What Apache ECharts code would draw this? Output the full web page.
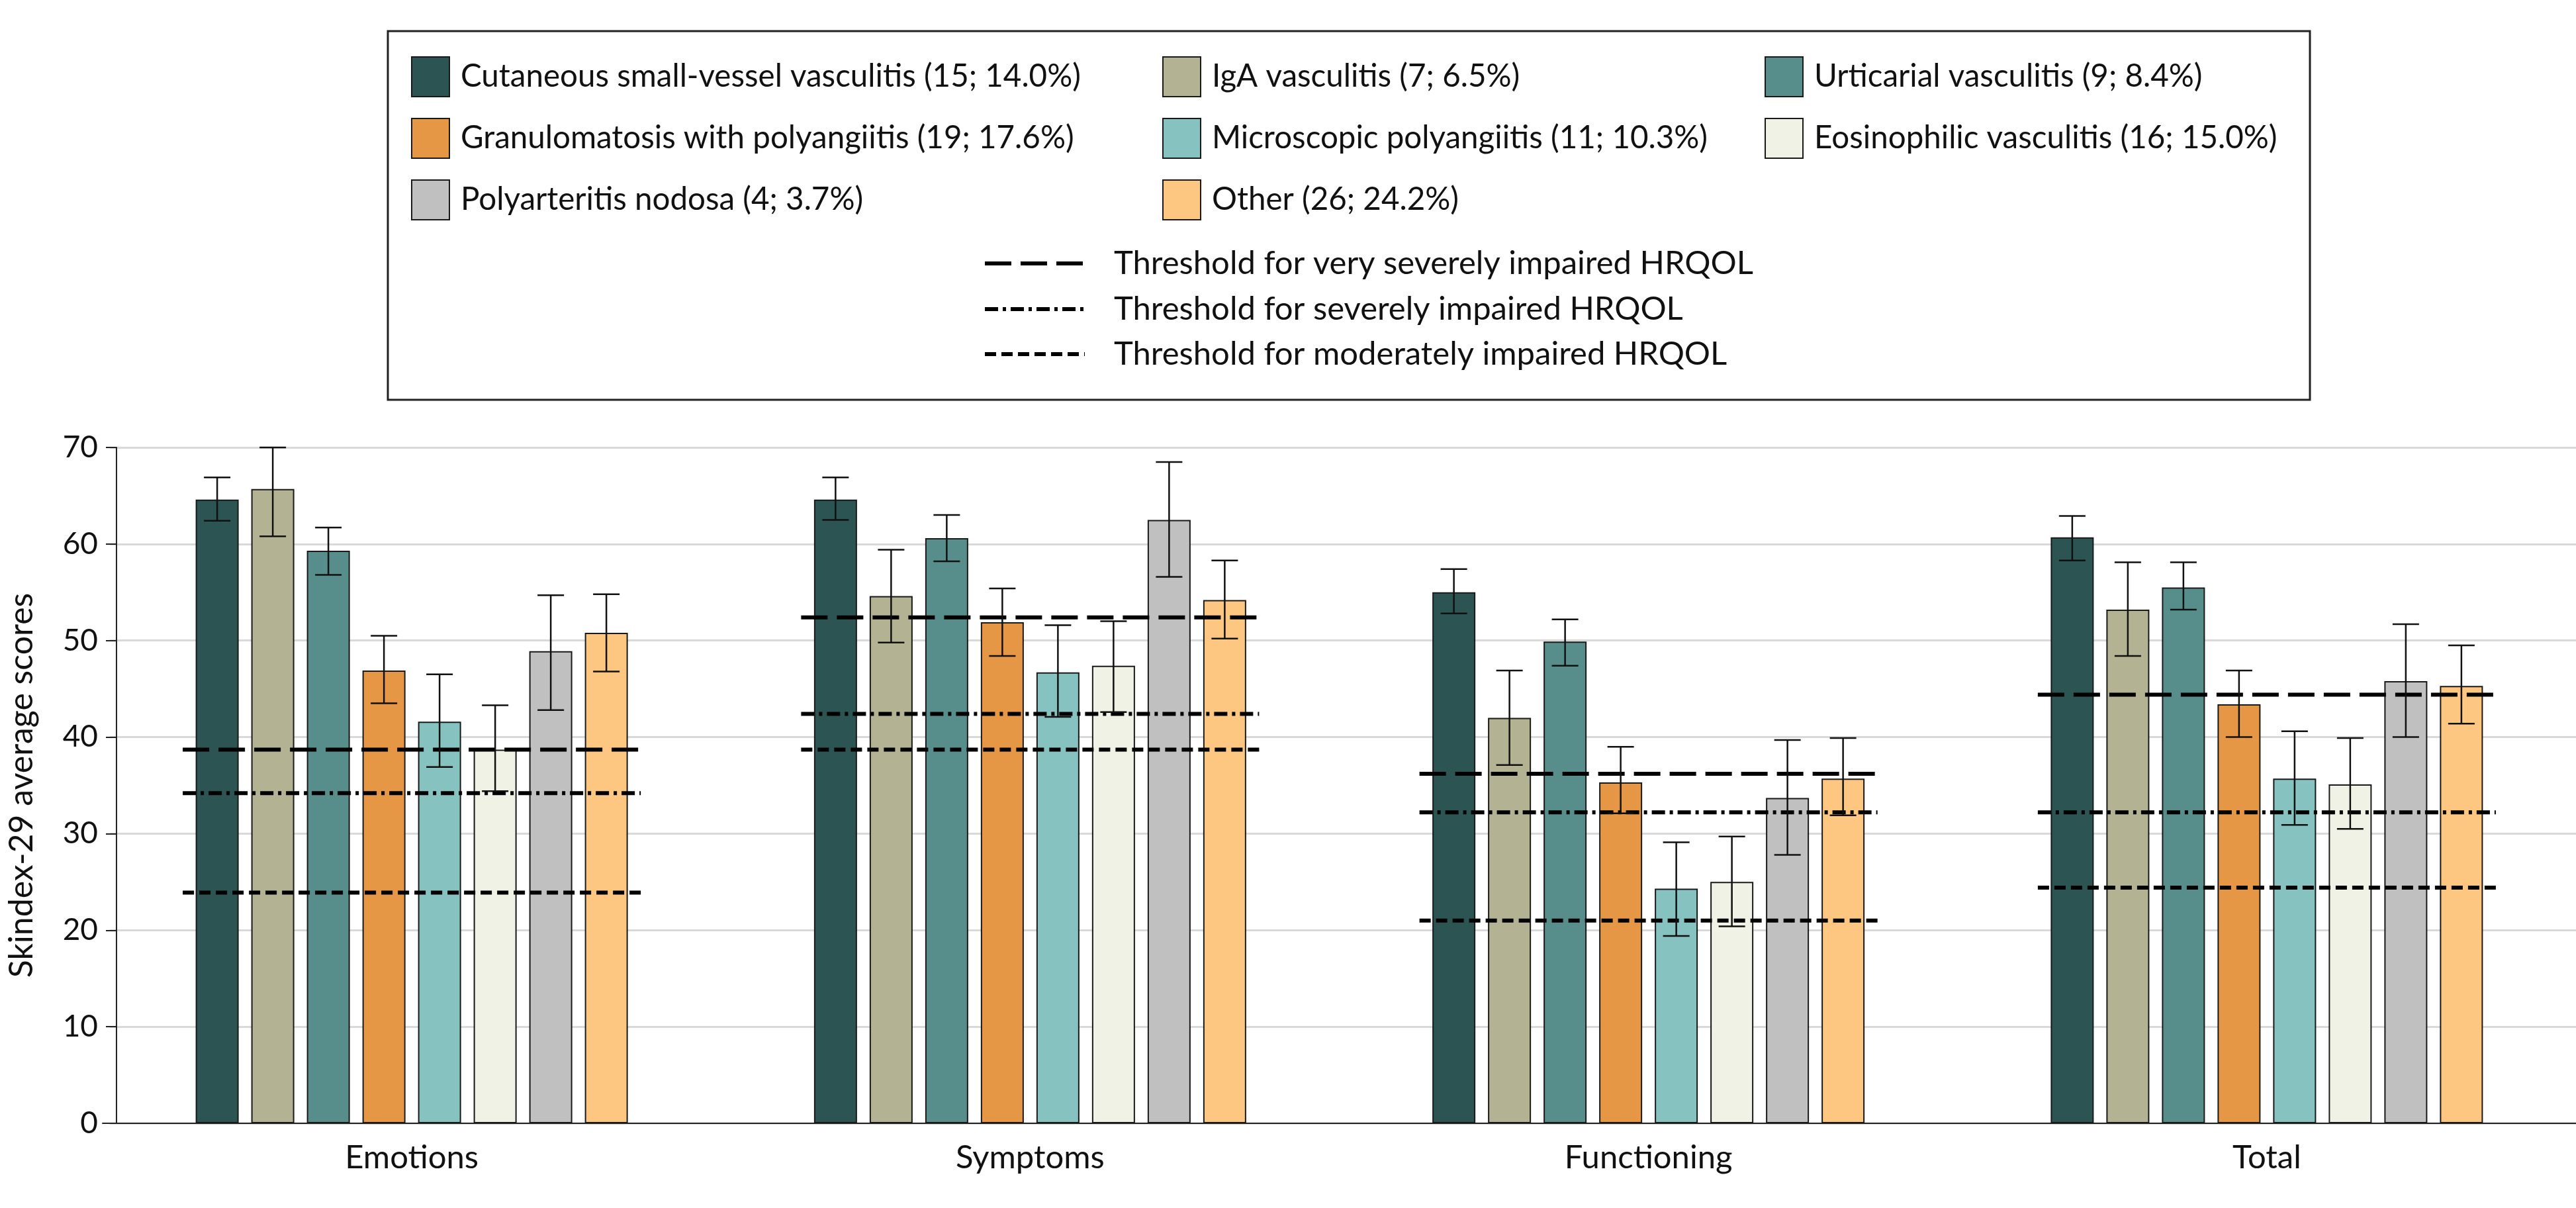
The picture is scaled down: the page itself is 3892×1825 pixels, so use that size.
<!DOCTYPE html>
<html><head><meta charset="utf-8">
<script src="https://cdn.jsdelivr.net/npm/echarts@6/dist/echarts.min.js"></script>
<style>html,body{margin:0;padding:0;background:#fff}#c{width:3892px;height:1825px}</style>
</head><body><div id="c"></div>
<script>
// ---------------- DATA ----------------
const categories = ['Emotions', 'Symptoms', 'Functioning', 'Total'];
const seriesNames = [
  'Cutaneous small-vessel vasculitis (15; 14.0%)',
  'IgA vasculitis (7; 6.5%)',
  'Urticarial vasculitis (9; 8.4%)',
  'Granulomatosis with polyangiitis (19; 17.6%)',
  'Microscopic polyangiitis (11; 10.3%)',
  'Eosinophilic vasculitis (16; 15.0%)',
  'Polyarteritis nodosa (4; 3.7%)',
  'Other (26; 24.2%)'
];
// mean scores per category
const meanCSVV  = [64.6, 64.6, 55.0, 60.7];
const meanIgA   = [65.7, 54.6, 42.0, 53.2];
const meanUrt   = [59.3, 60.6, 49.9, 55.5];
const meanGPA   = [46.9, 51.9, 35.3, 43.4];
const meanMPA   = [41.6, 46.7, 24.3, 35.7];
const meanEV    = [38.7, 47.4, 25.0, 35.1];
const meanPAN   = [48.9, 62.5, 33.7, 45.8];
const meanOther = [50.8, 54.2, 35.7, 45.3];
// error bar lower / upper bounds
const lowCSVV  = [62.4, 62.5, 52.8, 58.3], highCSVV  = [66.9, 66.9, 57.4, 62.9];
const lowIgA   = [60.8, 49.8, 37.1, 48.4], highIgA   = [70.0, 59.4, 46.9, 58.1];
const lowUrt   = [56.8, 58.2, 47.4, 53.2], highUrt   = [61.7, 63.0, 52.2, 58.1];
const lowGPA   = [43.5, 48.4, 32.1, 40.0], highGPA   = [50.5, 55.4, 39.0, 46.9];
const lowMPA   = [36.9, 42.1, 19.4, 30.9], highMPA   = [46.5, 51.6, 29.1, 40.6];
const lowEV    = [34.4, 42.6, 20.4, 30.5], highEV    = [43.3, 52.0, 29.7, 39.9];
const lowPAN   = [42.8, 56.6, 27.8, 40.0], highPAN   = [54.7, 68.5, 39.7, 51.7];
const lowOther = [46.8, 50.2, 31.9, 41.4], highOther = [54.8, 58.3, 39.9, 49.5];
// HRQOL thresholds per category
const thrVerySevere = [38.7, 52.4, 36.2, 44.4];
const thrSevere     = [34.2, 42.4, 32.2, 32.2];
const thrModerate   = [23.9, 38.7, 21.0, 24.4];
const thresholdNames = [
  'Threshold for very severely impaired HRQOL',
  'Threshold for severely impaired HRQOL',
  'Threshold for moderately impaired HRQOL'
];
const yTicks = [0, 10, 20, 30, 40, 50, 60, 70];

// ---------------- STYLE ----------------
const colors = ['#2C5453', '#B3B394', '#578E8C', '#E69746', '#85C2C0', '#F0F2E6', '#C0C0C0', '#FDC681'];
const FONT = 'Lato, "Liberation Sans", sans-serif';
const BAR_W = 65, BAR_STEP = 84, CAP = 20, THR_HALF = 346;
const dashes = [[40, 14], [20, 7, 5, 7], [17, 8]];

const means = [meanCSVV, meanIgA, meanUrt, meanGPA, meanMPA, meanEV, meanPAN, meanOther];
const lows  = [lowCSVV, lowIgA, lowUrt, lowGPA, lowMPA, lowEV, lowPAN, lowOther];
const highs = [highCSVV, highIgA, highUrt, highGPA, highMPA, highEV, highPAN, highOther];
const thresholds = [thrVerySevere, thrSevere, thrModerate];

const errRows = [];
means.forEach((m, si) => categories.forEach((c, ci) => errRows.push([ci, si, lows[si][ci], highs[si][ci]])));
const thrRows = [];
thresholds.forEach((t, ti) => categories.forEach((c, ci) => thrRows.push([ci, t[ci], ti])));

const barSeries = seriesNames.map((name, i) => ({
  name, type: 'bar', xAxisIndex: 0, yAxisIndex: 0,
  data: means[i], barWidth: BAR_W, barGap: (100 * (BAR_STEP - BAR_W) / BAR_W).toFixed(2) + '%',
  itemStyle: { color: colors[i], borderColor: '#1a1a1a', borderWidth: 2 },
  z: 2
}));

const thrSeries = {
  name: 'thresholds', type: 'custom', xAxisIndex: 0, yAxisIndex: 0,
  data: thrRows, encode: { x: 0, y: 1 }, z: 5, silent: true,
  renderItem: (params, api) => {
    const p = api.coord([api.value(0), api.value(1)]);
    const t = api.value(2);
    return { type: 'line', shape: { x1: p[0] - THR_HALF, y1: p[1], x2: p[0] + THR_HALF, y2: p[1] },
      style: { stroke: '#000', lineWidth: 6, lineDash: dashes[t], lineCap: 'butt' } };
  }
};

const errSeries = {
  name: 'errors', type: 'custom', xAxisIndex: 0, yAxisIndex: 0,
  data: errRows, encode: { x: 0, y: [2, 3] }, z: 6, silent: true,
  renderItem: (params, api) => {
    const ci = api.value(0), si = api.value(1);
    const lo = api.coord([ci, api.value(2)]);
    const hi = api.coord([ci, api.value(3)]);
    const x = lo[0] + (si - 3.5) * BAR_STEP;
    const st = { stroke: '#111', lineWidth: 2.5 };
    return { type: 'group', children: [
      { type: 'line', shape: { x1: x, y1: lo[1], x2: x, y2: hi[1] }, style: st },
      { type: 'line', shape: { x1: x - CAP, y1: lo[1], x2: x + CAP, y2: lo[1] }, style: st },
      { type: 'line', shape: { x1: x - CAP, y1: hi[1], x2: x + CAP, y2: hi[1] }, style: st }
    ] };
  }
};

const legendBase = {
  orient: 'vertical', top: 85, padding: 0, itemWidth: 57, itemHeight: 60, itemGap: 31,
  icon: 'rect', selectedMode: false,
  itemStyle: { borderColor: '#1a1a1a', borderWidth: 2 },
  textStyle: { fontFamily: FONT, fontSize: 47.5, color: '#111', padding: [0, 0, 0, 12] }
};

const graphic = [
  { type: 'rect', shape: { x: 586, y: 47, width: 2904, height: 557 },
    style: { fill: 'none', stroke: '#222', lineWidth: 3 }, z: 10 }
];
const thrLegendY = [398, 467, 535];
thresholdNames.forEach((n, i) => {
  graphic.push({ type: 'line', shape: { x1: 1488, y1: thrLegendY[i], x2: 1639, y2: thrLegendY[i] },
    style: { stroke: '#000', lineWidth: 6, lineDash: dashes[i] }, z: 10 });
  graphic.push({ type: 'text', x: 1683, y: thrLegendY[i], z: 10,
    style: { text: n, fontFamily: FONT, fontSize: 49, fill: '#111', verticalAlign: 'middle', align: 'left' } });
});

const option = {
  backgroundColor: '#fff',
  animation: false,
  grid: [
    { left: 145, top: 676, width: 3760, height: 1021 },
    { left: 166, top: 676, right: 0, height: 1021 }
  ],
  xAxis: [
    { type: 'category', gridIndex: 0, data: categories, boundaryGap: true,
      axisLine: { show: true, lineStyle: { color: '#222', width: 2 } },
      axisTick: { show: false },
      axisLabel: { fontFamily: FONT, fontSize: 49, color: '#111', margin: 28 } },
    { type: 'category', gridIndex: 1, data: categories, show: false }
  ],
  yAxis: [
    { type: 'value', gridIndex: 0, min: 0, max: 70, interval: 10, offset: -21,
      name: 'Skindex-29 average scores', nameLocation: 'middle', nameGap: 118, nameRotate: 90,
      nameTextStyle: { fontFamily: FONT, fontSize: 50, color: '#111' },
      axisLine: { show: true, lineStyle: { color: '#222', width: 2 } },
      axisTick: { show: true, length: 16, lineStyle: { color: '#222', width: 2 } },
      axisLabel: { fontFamily: FONT, fontSize: 46, color: '#111', margin: 28,
        formatter: v => yTicks.includes(v) ? String(v) : '' },
      splitLine: { show: false } },
    { type: 'value', gridIndex: 1, min: 0, max: 70, interval: 10,
      axisLine: { show: false }, axisTick: { show: false }, axisLabel: { show: false },
      splitLine: { show: true, lineStyle: { color: '#d9d9d9', width: 3 } } }
  ],
  legend: [
    Object.assign({}, legendBase, { left: 621, data: [seriesNames[0], seriesNames[3], seriesNames[6]] }),
    Object.assign({}, legendBase, { left: 1756, data: [seriesNames[1], seriesNames[4], seriesNames[7]] }),
    Object.assign({}, legendBase, { left: 2666, data: [seriesNames[2], seriesNames[5]] })
  ],
  graphic,
  series: [...barSeries, thrSeries, errSeries]
};

const chart = echarts.init(document.getElementById('c'), null, { renderer: 'canvas' });
chart.setOption(option);
</script></body></html>
